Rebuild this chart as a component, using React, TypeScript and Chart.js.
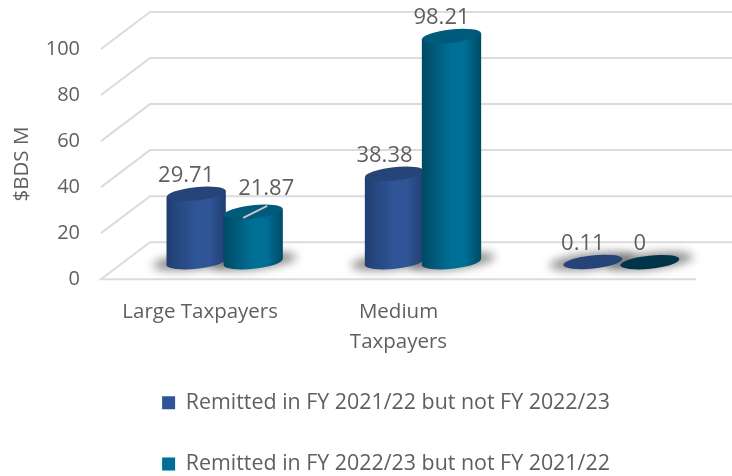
import React, { useEffect, useRef } from "react";
import { Chart, registerables } from "chart.js";

Chart.register(...registerables);

const categories: (string | string[])[] = ["Large Taxpayers", ["Medium", "Taxpayers"], ""];
const remitted2122 = [29.71, 38.38, 0.11];
const remitted2223 = [21.87, 98.21, 0];
const seriesNames = [
  "Remitted in FY 2021/22 but not FY 2022/23",
  "Remitted in FY 2022/23 but not FY 2021/22",
];
const yTicksMax = 100;
const yTicksStep = 20;

const FONT = "'Open Sans', sans-serif";
const TEXT = "#5f5f5f";

// Oblique projection of the floor: how far the back wall and the bar row sit from the front edge.
const WALL = { dx: 49, dy: -37 };
const ROW = { dx: 24.5, dy: -17 };
const TILT = (-6 * Math.PI) / 180;

const SHADES = [
  { edge: "#213e71", mid: "#2f5597", top: "#264478", flat: "#264478" },
  { edge: "#004a64", mid: "#006f96", top: "#005a7b", flat: "#003449" },
];

function fullEllipse(ctx: CanvasRenderingContext2D, x: number, y: number, rx: number, ry: number) {
  ctx.beginPath();
  ctx.ellipse(x, y, rx, ry, TILT, 0, Math.PI * 2);
}

const cylinders = {
  id: "cylinders",
  afterLayout(chart: any) {
    // The legend sits lower and further right than the default bottom slot.
    const lg = chart.legend;
    const h = lg.bottom - lg.top;
    lg.top = 352;
    lg.bottom = 352 + h;
    lg.left += 38;
    lg.right += 38;
    // Category labels are clipped to the scale box, so let it reach under the second line.
    chart.scales.x.bottom = 372;
  },
  beforeDatasetsDraw(chart: any) {
    const { ctx, chartArea, scales } = chart;
    const y = scales.y;

    // Wall and side gridlines, one polyline per y tick.
    ctx.save();
    ctx.strokeStyle = "#dcdcdc";
    ctx.lineWidth = 2;
    y.ticks.forEach((t: any) => {
      const py = y.getPixelForValue(t.value);
      ctx.beginPath();
      if (t.value === 0) {
        ctx.moveTo(chartArea.right, py);
        ctx.lineTo(chartArea.left, py);
      } else {
        ctx.moveTo(chartArea.left, py);
      }
      ctx.lineTo(chartArea.left + WALL.dx, py + WALL.dy);
      ctx.lineTo(chart.width + WALL.dx, py + WALL.dy);
      ctx.stroke();
    });
    ctx.restore();

    const parts: any[] = [];
    chart.data.datasets.forEach((ds: any, di: number) => {
      chart.getDatasetMeta(di).data.forEach((bar: any, i: number) => {
        parts.push({ di, i, value: ds.data[i], bar });
      });
    });

    // Soft floor shadows underneath every bar.
    ctx.save();
    ctx.filter = "blur(5px)";
    ctx.fillStyle = "rgba(70,70,70,0.62)";
    parts.forEach(({ bar }) => {
      const cx = bar.x + ROW.dx;
      const base = bar.base + ROW.dy;
      fullEllipse(ctx, cx, base - 1, bar.width / 2 + 15, 8);
      ctx.fill();
    });
    ctx.restore();

    // Cylinders, second series in front of the first.
    parts.forEach(({ di, value, bar }) => {
      const shade = SHADES[di];
      const cx = bar.x + ROW.dx;
      const base = bar.base + ROW.dy;
      const top = bar.y + ROW.dy;
      const rx = (bar.width * 1.04) / 2;
      const ry = 6.6;
      const lean = rx * Math.sin(-TILT);
      if (base - top > 1) {
        const g = ctx.createLinearGradient(cx - rx, 0, cx + rx, 0);
        g.addColorStop(0, shade.edge);
        g.addColorStop(0.5, shade.mid);
        g.addColorStop(0.72, shade.mid);
        g.addColorStop(1, shade.edge);
        ctx.fillStyle = g;
        ctx.beginPath();
        ctx.moveTo(cx - rx, top + lean);
        ctx.lineTo(cx + rx, top - lean);
        ctx.lineTo(cx + rx, base - lean);
        ctx.lineTo(cx - rx, base + lean);
        ctx.closePath();
        ctx.fill();
        fullEllipse(ctx, cx, base, rx, ry);
        ctx.fill();
        ctx.fillStyle = shade.top;
      } else {
        ctx.fillStyle = value === 0 ? shade.flat : shade.top;
      }
      fullEllipse(ctx, cx, top, rx, ry);
      ctx.fill();
    });

    // Leader line that ties the displaced 21.87 label to its bar.
    const moved = parts.find((p) => p.di === 1 && p.i === 0);
    const mx = moved.bar.x + ROW.dx;
    const my = moved.bar.y + ROW.dy;
    ctx.save();
    ctx.strokeStyle = "#c4c4c4";
    ctx.lineWidth = 2;
    ctx.beginPath();
    ctx.moveTo(mx - 10, my + 6);
    ctx.lineTo(mx + 14, my - 6);
    ctx.stroke();
    ctx.restore();

    // Value labels above the bars.
    ctx.save();
    ctx.font = `22px ${FONT}`;
    ctx.fillStyle = TEXT;
    ctx.textAlign = "center";
    ctx.textBaseline = "middle";
    parts.forEach((p) => {
      const isMoved = p === moved;
      const lx = p.bar.x + ROW.dx + (isMoved ? 13 : -10);
      const ly = p.bar.y + ROW.dy + (isMoved ? -23 : -18.5);
      ctx.fillText(String(p.value), lx, ly);
    });
    ctx.restore();

    return false;
  },
};

export default function App() {
  const ref = useRef<HTMLCanvasElement | null>(null);

  useEffect(() => {
    if (!ref.current) return;
    const chart = new Chart(ref.current, {
      type: "bar",
      data: {
        labels: categories as any,
        datasets: [
          { label: seriesNames[0], data: remitted2122, backgroundColor: "#2f5597", borderWidth: 0 },
          { label: seriesNames[1], data: remitted2223, backgroundColor: "#006f96", borderWidth: 0 },
        ],
      },
      options: {
        responsive: false,
        animation: false,
        categoryPercentage: 0.575,
        barPercentage: 1,
        layout: { padding: { left: 0, right: 36, top: 49, bottom: 0 } },
        plugins: {
          tooltip: { enabled: false },
          title: { display: false },
          legend: {
            position: "bottom",
            labels: {
              boxWidth: 13,
              boxHeight: 13,
              padding: 40,
              color: TEXT,
              font: { family: FONT, size: 21.4 },
            },
          },
        },
        scales: {
          x: {
            grid: { display: false, drawTicks: false },
            border: { display: false },
            afterFit: (s: any) => {
              s.height = 64;
            },
            ticks: {
              autoSkip: false,
              maxRotation: 0,
              minRotation: 0,
              padding: 18,
              color: TEXT,
              font: { family: FONT, size: 20.5, lineHeight: 1.45 },
            },
          },
          y: {
            min: 0,
            max: yTicksMax,
            grid: { display: false, drawTicks: false },
            border: { display: false },
            afterFit: (s: any) => {
              s.width = 101;
            },
            ticks: {
              stepSize: yTicksStep,
              padding: 21,
              color: TEXT,
              font: { family: FONT, size: 20 },
            },
            title: {
              display: true,
              text: "$BDS M",
              color: TEXT,
              font: { family: FONT, size: 20.5 },
              padding: { top: 10, bottom: 0 },
            },
          },
        },
      },
      plugins: [cylinders as any],
    });
    return () => chart.destroy();
  }, []);

  return (
    <div style={{ position: "absolute", left: 0, top: 0, width: 732, height: 476, background: "#fff" }}>
      <canvas ref={ref} width={732} height={476} style={{ display: "block" }} />
    </div>
  );
}
